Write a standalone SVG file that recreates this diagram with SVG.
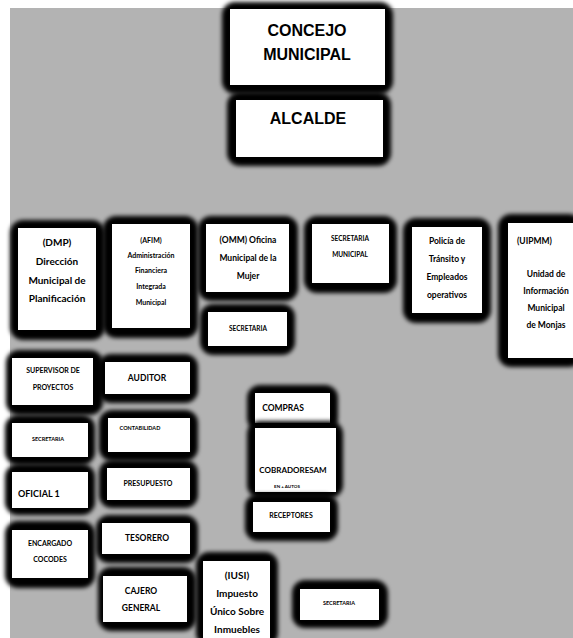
<svg xmlns="http://www.w3.org/2000/svg" width="573" height="638" viewBox="0 0 573 638">
<defs>
<filter id="blur" x="-20%" y="-20%" width="140%" height="140%"><feGaussianBlur stdDeviation="2.2"/></filter>
<style>
.b{fill:#000;filter:url(#blur)}
.w{fill:#fff}
text{font-family:"Lato","Liberation Sans",sans-serif;font-weight:bold;fill:#000;text-anchor:middle}
.big{font-family:"Liberation Sans",Arial,sans-serif;font-size:16px}
.m{font-size:10px}
.s{font-size:8.5px}
.xs{font-size:7px}
.t{font-size:6.5px}
</style>
</defs>
<rect x="0" y="0" width="573" height="638" fill="#fff"/>
<rect x="10" y="8" width="563" height="630" fill="#b3b3b3"/>
<g id="connectors"></g>

<g id="concejo"><rect class="b" x="222" y="2" width="171" height="92" rx="13"/><rect class="w" x="230" y="9" width="155" height="76"/>
<text class="big" x="307" y="36">CONCEJO</text><text class="big" x="307" y="60">MUNICIPAL</text></g>
<g id="alcalde"><rect class="b" x="227" y="92" width="164" height="74" rx="13"/><rect class="w" x="236" y="100" width="147" height="57"/>
<text class="big" x="308" y="124">ALCALDE</text></g>

<g id="dmp"><rect class="b" x="10" y="220" width="95" height="120" rx="13"/><rect class="w" x="18" y="228" width="78" height="102"/>
<text class="m" x="57" y="246">(DMP)</text><text class="m" x="57" y="265">Dirección</text><text class="m" x="57" y="284">Municipal de</text><text class="m" x="57" y="302">Planificación</text></g>
<g id="afim"><rect class="b" x="103" y="216" width="95" height="122" rx="13"/><rect class="w" x="112" y="224" width="78" height="104"/>
<text class="xs" x="151" y="243">(AFIM)</text><text class="xs" x="151" y="258">Administración</text><text class="xs" x="151" y="273">Financiera</text><text class="xs" x="151" y="289">Integrada</text><text class="xs" x="151" y="305">Municipal</text></g>
<g id="omm"><rect class="b" x="198" y="216" width="100" height="85" rx="13"/><rect class="w" x="206" y="224" width="83" height="68"/>
<text class="s" x="248" y="243">(OMM) Oficina</text><text class="s" x="248" y="261">Municipal de la</text><text class="s" x="248" y="279">Mujer</text></g>
<g id="omm-secretaria"><rect class="b" x="200" y="304" width="95" height="51" rx="13"/><rect class="w" x="208" y="312" width="79" height="34"/>
<text class="t" x="248" y="331">SECRETARIA</text></g>
<g id="secretaria-municipal"><rect class="b" x="304" y="216" width="93" height="77" rx="13"/><rect class="w" x="312" y="224" width="77" height="59"/>
<text class="t" x="350" y="241">SECRETARIA</text><text class="t" x="350" y="257">MUNICIPAL</text></g>
<g id="policia"><rect class="b" x="403" y="218" width="88" height="105" rx="13"/><rect class="w" x="412" y="227" width="70" height="86"/>
<text class="s" x="447" y="244">Policía de</text><text class="s" x="447" y="262">Tránsito y</text><text class="s" x="447" y="280">Empleados</text><text class="s" x="447" y="298">operativos</text></g>
<g id="uipmm"><rect class="b" x="498" y="214" width="84" height="153" rx="13"/><rect class="w" x="508" y="223" width="70" height="135"/>
<text class="s" x="517" y="244" style="text-anchor:start">(UIPMM)</text><text class="s" x="546" y="277">Unidad de</text><text class="s" x="546" y="294">Información</text><text class="s" x="546" y="311">Municipal</text><text class="s" x="546" y="328">de Monjas</text></g>

<g id="supervisor"><rect class="b" x="6" y="350" width="97" height="65" rx="13"/><rect class="w" x="12" y="358" width="81" height="47"/>
<text class="xs" x="53" y="373">SUPERVISOR DE</text><text class="xs" x="53" y="390">PROYECTOS</text></g>
<g id="auditor"><rect class="b" x="98" y="354" width="100" height="49" rx="13"/><rect class="w" x="105" y="362" width="85" height="32"/>
<text class="s" x="147" y="381">AUDITOR</text></g>
<g id="secretaria-izq"><rect class="b" x="5" y="415" width="90" height="50" rx="13"/><rect class="w" x="12" y="423" width="76" height="34"/>
<text class="t" x="48" y="441" style="font-size:5.5px">SECRETARIA</text></g>
<g id="contabilidad"><rect class="b" x="99" y="410" width="99" height="51" rx="13"/><rect class="w" x="108" y="418" width="82" height="34"/>
<text class="t" x="140" y="430" style="font-size:5.5px">CONTABILIDAD</text></g>
<g id="oficial"><rect class="b" x="5" y="464" width="90" height="51" rx="13"/><rect class="w" x="12" y="472" width="76" height="36"/>
<text class="m" x="18" y="497" style="text-anchor:start;font-size:9px">OFICIAL 1</text></g>
<g id="presupuesto"><rect class="b" x="99" y="460" width="99" height="48" rx="13"/><rect class="w" x="107" y="468" width="83" height="32"/>
<text class="xs" x="148" y="486">PRESUPUESTO</text></g>
<g id="cocodes"><rect class="b" x="5" y="521" width="90" height="67" rx="13"/><rect class="w" x="12" y="530" width="76" height="48"/>
<text class="xs" x="50" y="546">ENCARGADO</text><text class="xs" x="50" y="562">COCODES</text></g>
<g id="tesorero"><rect class="b" x="96" y="515" width="102" height="48" rx="13"/><rect class="w" x="102" y="523" width="88" height="31"/>
<text class="s" x="147" y="541">TESORERO</text></g>
<g id="cajero"><rect class="b" x="98" y="567" width="98" height="64" rx="13"/><rect class="w" x="103" y="576" width="84" height="46"/>
<text class="s" x="141" y="594">CAJERO</text><text class="s" x="141" y="611">GENERAL</text></g>

<g id="compras"><rect class="b" x="247" y="385" width="91" height="46" rx="13"/><rect class="w" x="255" y="393" width="75" height="30"/>
<text class="s" x="283" y="411">COMPRAS</text></g>
<g id="cobradores"><rect class="b" x="247" y="421" width="96" height="77" rx="13"/><rect class="w" x="255" y="428" width="81" height="64"/>
<text class="s" x="293" y="473" style="font-size:8px">COBRADORESAM</text><text class="t" x="287" y="488" style="font-size:4.5px">EN + AUTOS</text></g>
<g id="receptores"><rect class="b" x="245" y="494" width="93" height="47" rx="13"/><rect class="w" x="253" y="502" width="77" height="30"/>
<text class="xs" x="291" y="518">RECEPTORES</text></g>
<g id="iusi"><rect class="b" x="196" y="552" width="82" height="94" rx="13"/><rect class="w" x="203" y="561" width="67" height="77"/>
<text class="m" x="237" y="579">(IUSI)</text><text class="m" x="237" y="597">Impuesto</text><text class="m" x="237" y="615">Único Sobre</text><text class="m" x="237" y="633">Inmuebles</text></g>
<g id="secretaria-iusi"><rect class="b" x="292" y="580" width="96" height="48" rx="13"/><rect class="w" x="300" y="589" width="79" height="31"/>
<text class="t" x="339" y="605" style="font-size:5.5px">SECRETARIA</text></g>
</svg>
